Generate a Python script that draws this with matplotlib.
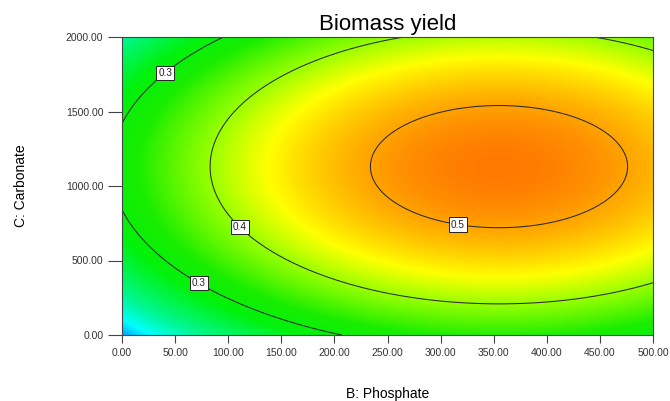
import numpy as np
import matplotlib
matplotlib.use("Agg")
import matplotlib.pyplot as plt
from matplotlib.colors import LinearSegmentedColormap

# Fitted quadratic response-surface coefficients
peak_value = 0.5247
peak_phosphate = 355.0
peak_carbonate = 1130.0
curv_phosphate = 1.685e-6
curv_carbonate = 1.47e-7

phosphate_range = [0.0, 500.0]
carbonate_range = [0.0, 2000.0]
x_ticks = [0, 50, 100, 150, 200, 250, 300, 350, 400, 450, 500]
y_ticks = [0, 500, 1000, 1500, 2000]
contour_levels = [0.3, 0.4, 0.5]
label_positions = [(40, 1765), (73, 356), (112, 732), (317, 772)]

title = "Biomass yield"
xlabel = "B: Phosphate"
ylabel = "C: Carbonate"

plt.rcParams['font.family'] = ['Liberation Sans', 'DejaVu Sans']

xs = np.linspace(*phosphate_range, 400)
ys = np.linspace(*carbonate_range, 400)
X, Y = np.meshgrid(xs, ys)
Z = (peak_value - curv_phosphate * (X - peak_phosphate) ** 2
     - curv_carbonate * (Y - peak_carbonate) ** 2)

vmin, vmax = 0.1, 0.58
def n(v):
    return (v - vmin) / (vmax - vmin)

cmap = LinearSegmentedColormap.from_list("de", [
    (n(0.10), (0.0, 0.3, 1.0)),
    (n(0.125), (0.0, 0.65, 1.0)),
    (n(0.155), (0.0, 1.0, 1.0)),
    (n(0.20), (0.0, 0.97, 0.6)),
    (n(0.28), (0.0, 0.95, 0.05)),
    (n(0.33), (0.1, 0.93, 0.0)),
    (n(0.40), (0.6, 1.0, 0.0)),
    (n(0.445), (1.0, 1.0, 0.0)),
    (n(0.525), (1.0, 0.48, 0.0)),
    (n(0.58), (1.0, 0.1, 0.0)),
])

W, H = 670, 401
fig = plt.figure(figsize=(W / 100, H / 100), dpi=100)
ax = fig.add_axes([122 / W, 1 - 335 / H, (653 - 122) / W, (335 - 37) / H])
ax.imshow(Z, origin='lower', extent=[*phosphate_range, *carbonate_range],
          aspect='auto', cmap=cmap, vmin=vmin, vmax=vmax, interpolation='bilinear')
cs = ax.contour(X, Y, Z, levels=contour_levels, colors='#2a2a2a', linewidths=0.75)
labels = ax.clabel(cs, inline=False, fontsize=7.2, fmt='%.1f', manual=label_positions)
for t in labels:
    t.set_rotation(0)
    t.set_color('#222222')
    t.set_bbox(dict(facecolor='white', edgecolor='#222222', pad=1.5, linewidth=0.7))
    t.set_zorder(5)

ax.set_xlim(*phosphate_range)
ax.set_ylim(*carbonate_range)
ax.set_xticks(x_ticks)
ax.set_yticks(y_ticks)
ax.set_xticklabels([f"{v:.2f}" for v in x_ticks])
ax.set_yticklabels([f"{v:.2f}" for v in y_ticks])
ax.tick_params(axis='both', direction='out', width=0.8, color='#444444',
               labelsize=7.5, labelcolor='#333333')
ax.tick_params(axis='x', length=5.8, pad=3.2)
ax.tick_params(axis='y', length=10, pad=3.5)
for s in ax.spines.values():
    s.set_color('#444444')
    s.set_linewidth(0.8)

ax.set_title(title, fontsize=16, pad=5)
ax.set_xlabel(xlabel, fontsize=10, labelpad=21)
ax.set_ylabel(ylabel, fontsize=10, labelpad=27)

fig.savefig("out.png", dpi=100)
